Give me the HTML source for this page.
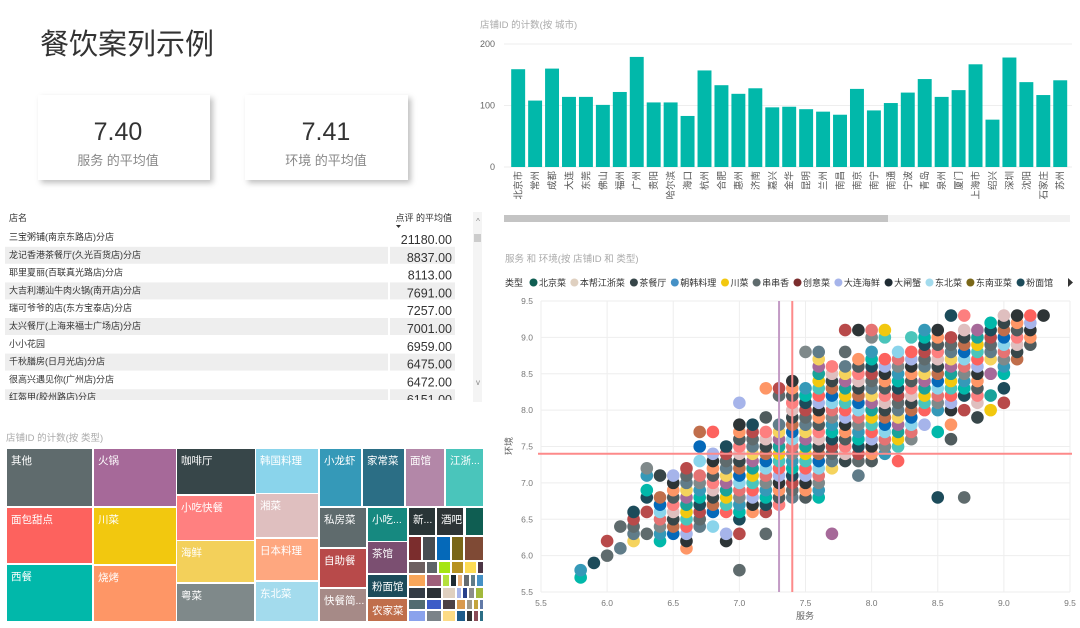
<!DOCTYPE html>
<html><head><meta charset="utf-8">
<style>
body{margin:0;background:#fff;width:1080px;height:623px;overflow:hidden;font-family:"Liberation Sans","Noto Sans CJK SC",sans-serif;}
svg text{font-family:"Liberation Sans","Noto Sans CJK SC",sans-serif;}
</style></head>
<body>
<svg id="root" width="1080" height="623" viewBox="0 0 1080 623" xmlns="http://www.w3.org/2000/svg">
<defs>
<filter id="sh" x="-20%" y="-20%" width="150%" height="150%"><feDropShadow dx="3" dy="3" stdDeviation="3" flood-color="#000" flood-opacity="0.25"/></filter>
</defs>
<text x="40" y="54" font-size="29" fill="#333">餐饮案列示例</text>
<g>
<rect x="38" y="95" width="172" height="85" fill="#fff" filter="url(#sh)"/>
<text x="118" y="140" font-size="25" fill="#333" text-anchor="middle">7.40</text>
<text x="118" y="165" font-size="13" fill="#888" text-anchor="middle">服务 的平均值</text>
</g>
<g>
<rect x="245" y="95" width="163" height="85" fill="#fff" filter="url(#sh)"/>
<text x="326" y="140" font-size="25" fill="#333" text-anchor="middle">7.41</text>
<text x="326" y="165" font-size="13" fill="#888" text-anchor="middle">环境 的平均值</text>
</g>
<g id="table"></g>
<g id="treemap"></g>
<g id="bar"></g>
<g id="scatter"></g>
</svg>
<script>
const NS='http://www.w3.org/2000/svg';
function mk(parent,tag,attrs,txt){const e=document.createElementNS(NS,tag);for(const k in attrs)e.setAttribute(k,attrs[k]);if(txt!==undefined)e.textContent=txt;parent.appendChild(e);return e;}

/* ---------- table ---------- */
const tableNames=['三宝粥铺(南京东路店)分店','龙记香港茶餐厅(久光百货店)分店','耶里夏丽(百联真光路店)分店','大吉利潮汕牛肉火锅(南开店)分店','瑞可爷爷的店(东方宝泰店)分店','太兴餐厅(上海来福士广场店)分店','小小花园','千秋膳房(日月光店)分店','很高兴遇见你(广州店)分店','红盔甲(胶州路店)分店'];
const tableValues=[21180,8837,8113,7691,7257,7001,6959,6475,6472,6151];
(function(){
const g=document.getElementById('table');
let t=mk(g,'text',{x:9,y:221,'font-size':9,fill:'#333'},'店名');


t=mk(g,'text',{x:452,y:221,'font-size':9,fill:'#333','text-anchor':'end'},'点评 的平均值');


mk(g,'path',{d:'M396 225 L401 225 L398.5 228 Z',fill:'#333'});
const sb=mk(g,'rect',{x:473,y:212,width:9,height:190,fill:'#f4f4f4'});


mk(g,'rect',{x:474,y:234,width:7,height:8,fill:'#ccc'});
mk(g,'text',{x:478,y:224,'font-size':8,fill:'#888','text-anchor':'middle'},'^');
mk(g,'text',{x:478,y:385,'font-size':8,fill:'#888','text-anchor':'middle'},'v');
const clip=mk(g,'clipPath',{id:'tc'});mk(clip,'rect',{x:0,y:228,width:470,height:172});
const body=mk(g,'g',{'clip-path':'url(#tc)'});
tableNames.forEach((n,i)=>{
 const y=229+i*17.8;
 const row=mk(body,'g',{});
 
 
 if(i%2===1){mk(row,'rect',{x:5,y:y,width:383,height:17,fill:'#eeeeee'});mk(row,'rect',{x:390,y:y,width:65,height:17,fill:'#eeeeee'});}
 mk(row,'text',{x:9,y:y+11,'font-size':9,fill:'#333'},n);
 mk(row,'text',{x:452,y:y+15,'font-size':12.5,fill:'#333','text-anchor':'end'},tableValues[i].toFixed(2));
});
})();

/* ---------- treemap ---------- */
const tmCells=[
['其他',7,449,92,506,'#5f6b6d'],['火锅',94,449,176,506,'#a66999'],['咖啡厅',177,449,255,494,'#374649'],['韩国料理',256,449,318,493,'#8ad4eb'],
['小龙虾',320,449,361,506,'#3599b8'],['家常菜',363,449,404,506,'#2b6e85'],['面馆',406,449,444,506,'#b387a8'],['江浙...',446,449,483,506,'#4ac5bb'],
['面包甜点',7,508,92,563,'#fd625e'],['川菜',94,508,176,564,'#f2c80f'],['西餐',7,565,92,621,'#01b8aa'],['烧烤',94,566,176,621,'#fe9666'],
['小吃快餐',177,496,254,540,'#ff8080'],['海鲜',177,541,254,582,'#f3d05a'],['粤菜',177,584,254,621,'#7f898a'],
['湘菜',256,494,318,537,'#dfbfbf'],['日本料理',256,539,318,580,'#fea77f'],['东北菜',256,582,318,621,'#a3dbed'],
['私房菜',320,508,366,547,'#5f6b6d'],['自助餐',320,549,366,587,'#b84a4a'],['快餐简...',320,589,366,621,'#a68a87'],
['小吃...',368,508,407,541,'#168980'],['茶馆',368,542,407,573,'#7b4f71'],['粉面馆',368,575,407,597,'#1c4b5a'],['农家菜',368,599,407,621,'#c06e4b'],
['新...',409,508,435,535,'#293537'],['酒吧',437,508,463,535,'#2d3436'],['',466,508,483,535,'#0f5e52'],
['',409,537,421,560,'#7b2d2d'],['',423,537,435,560,'#474d52'],['',437,537,450,560,'#0569b9'],['',452,537,463,560,'#7a6718'],['',465,537,483,560,'#7f4a35'],
['',409,562,425,573,'#6d6061'],['',427,562,437,573,'#5e6469'],['',439,562,450,573,'#a6e512'],['',452,562,463,573,'#b79222'],['',465,562,476,573,'#fddb55'],['',478,562,483,573,'#4d3545'],
['',409,575,425,586,'#f9a65a'],['',427,575,441,586,'#9e5f7a'],['',443,575,449,586,'#b5e03d'],['',451,575,456,586,'#1f2b33'],['',458,575,462,586,'#ebb27d'],['',464,575,469,586,'#656b71'],['',471,575,475,586,'#607c89'],['',477,575,483,586,'#4591c6'],
['',409,588,425,598,'#333b45'],['',427,588,441,598,'#2a3035'],['',443,588,455,598,'#dfd0c0'],['',457,588,461,598,'#a6b4ea'],['',463,588,467,598,'#27408b'],['',469,588,474,598,'#8c8c8c'],['',476,588,483,598,'#a2b93c'],
['',409,600,425,609,'#526c71'],['',427,600,441,609,'#3c5cc7'],['',443,600,455,609,'#4d4145'],['',457,600,465,609,'#d99a4e'],['',467,600,472,609,'#9f9a8c'],['',474,600,478,609,'#c4a43c'],['',480,600,483,609,'#6179a7'],
['',409,611,425,621,'#8aa2ec'],['',427,611,441,621,'#7b8389'],['',443,611,455,621,'#fddb85'],['',457,611,465,621,'#1e5b8a'],['',467,611,472,621,'#333'],['',474,611,478,621,'#8b4b56'],['',480,611,483,621,'#2b6e85']
];
(function(){
const g=document.getElementById('treemap');
mk(g,'text',{x:6,y:441,'font-size':9.5,fill:'#aaa'},'店铺ID 的计数(按 类型)');
tmCells.forEach(c=>{
 const r=mk(g,'rect',{x:c[1],y:c[2],width:c[3]-c[1],height:c[4]-c[2],fill:c[5]});
 
 
 if(c[0])mk(g,'text',{x:c[1]+4,y:c[2]+15,'font-size':10.5,fill:'#fff'},c[0]);
});
})();

/* ---------- bar chart ---------- */
const cities=['北京市','常州','成都','大连','东莞','佛山','福州','广州','贵阳','哈尔滨','海口','杭州','合肥','惠州','济南','嘉兴','金华','昆明','兰州','南昌','南京','南宁','南通','宁波','青岛','泉州','厦门','上海市','绍兴','深圳','沈阳','石家庄','苏州'];
const counts=[159,108,160,114,114,101,122,179,105,105,83,157,133,119,128,97,98,94,90,85,127,92,104,121,143,114,125,167,77,178,138,117,141];
const barTicks=[0,100,200];
(function(){
const g=document.getElementById('bar');
const x0=510,x1=1069,yb=167,yt=44;
const y=v=>yb-(v/200)*(yb-yt);
const step=(x1-x0)/cities.length;
mk(g,'text',{x:480,y:28,'font-size':9.5,fill:'#aaa'},'店铺ID 的计数(按 城市)');
barTicks.forEach(t=>{
 mk(g,'line',{x1:504,x2:1072,y1:y(t),y2:y(t),stroke:'#eee','stroke-width':1});
 mk(g,'text',{x:495,y:y(t)+3,'font-size':9,fill:'#666','text-anchor':'end'},String(t));
});
cities.forEach((c,i)=>{
 const bx=x0+i*step+1.2;
 const bw=step-3;
 const r=mk(g,'rect',{x:bx,y:y(counts[i]),width:bw,height:yb-y(counts[i]),fill:'#01b8aa'});
 
 
 const cx=bx+bw/2+3.5;
 mk(g,'text',{x:cx,y:171,'font-size':9.5,fill:'#555','text-anchor':'end',transform:`rotate(-90 ${cx} 171)`},c);
});
const sb=mk(g,'rect',{x:504,y:215,width:566,height:7,fill:'#f2f2f2'});


mk(g,'rect',{x:504,y:215,width:384,height:7,fill:'#c4c4c4'});
})();

/* ---------- scatter ---------- */
const legendTypes=['北京菜','本帮江浙菜','茶餐厅','朝韩料理','川菜','串串香','创意菜','大连海鲜','大闸蟹','东北菜','东南亚菜','粉面馆'];
const legendColors=['#0f5e52','#dfd0c0','#374649','#4591c6','#f2c80f','#5f6b6d','#7b2d2d','#a6b4ea','#1f2b33','#a3dbed','#7a6718','#1c4b5a'];
const serviceVals=[5.8,5.9,6.0,6.1,6.2,6.3,6.4,6.5,6.6,6.7,6.8,6.9,7.0,7.1,7.2,7.3,7.4,7.5,7.6,7.7,7.8,7.9,8.0,8.1,8.2,8.3,8.4,8.5,8.6,8.7,8.8,8.9,9.0,9.1,9.2,9.3];
const envVals=[
[5.7,5.8],[5.9],[6.0,6.2],[6.1,6.4],[6.2,6.3,6.4,6.5,6.6],[6.3,6.6,6.8,6.9,7.1,7.2],
[6.2,6.3,6.4,6.5,6.6,6.7,6.8,7.1],[6.3,6.4,6.5,6.6,6.7,6.8,6.9,7.0,7.1],
[6.1,6.2,6.3,6.4,6.5,6.6,6.7,6.8,6.9,7.0,7.1,7.2],[6.4,6.5,6.6,6.7,6.8,6.9,7.0,7.1,7.3,7.5,7.7],
[6.4,6.6,6.7,6.8,6.9,7.0,7.1,7.2,7.3,7.4,7.7],[6.2,6.3,6.6,6.7,6.8,6.9,7.0,7.1,7.2,7.3,7.4,7.5],
[5.8,6.3,6.5,6.6,6.7,6.8,6.9,7.0,7.1,7.2,7.3,7.4,7.5,7.6,7.7,7.8,8.1],
[6.6,6.7,6.8,6.9,7.0,7.1,7.2,7.3,7.4,7.5,7.6,7.7,7.8],
[6.3,6.6,6.7,6.8,6.9,7.0,7.1,7.2,7.3,7.4,7.5,7.6,7.7,7.9,8.3],
[6.7,6.8,6.9,7.0,7.1,7.2,7.3,7.4,7.5,7.6,7.7,7.8,8.2,8.3],
[6.8,6.9,7.0,7.1,7.2,7.3,7.4,7.5,7.6,7.7,7.8,7.9,8.0,8.1,8.2,8.3,8.4],
[6.8,6.9,7.0,7.1,7.2,7.3,7.4,7.5,7.6,7.7,7.8,7.9,8.0,8.1,8.2,8.3,8.8],
[6.8,6.9,7.0,7.1,7.2,7.3,7.4,7.5,7.6,7.7,7.8,7.9,8.0,8.1,8.2,8.3,8.4,8.5,8.6,8.7,8.8],
[6.3,7.2,7.3,7.4,7.5,7.6,7.7,7.8,7.9,8.0,8.1,8.2,8.3,8.4,8.5,8.6],
[7.3,7.4,7.5,7.6,7.7,7.8,7.9,8.0,8.1,8.2,8.3,8.4,8.5,8.6,8.8,9.1],
[7.1,7.3,7.4,7.5,7.6,7.7,7.8,7.9,8.0,8.1,8.2,8.3,8.4,8.5,8.6,8.7,9.1],
[7.3,7.4,7.5,7.6,7.7,7.8,7.9,8.0,8.1,8.2,8.3,8.4,8.5,8.6,8.7,8.8,9.0,9.1],
[7.4,7.5,7.6,7.7,7.8,7.9,8.0,8.1,8.2,8.3,8.4,8.5,8.6,8.7,9.0,9.1],
[7.3,7.5,7.6,7.7,7.8,7.9,8.0,8.1,8.2,8.3,8.4,8.5,8.6,8.7,8.8],
[7.6,7.7,7.8,7.9,8.0,8.1,8.2,8.3,8.4,8.5,8.6,8.7,8.8,9.0],
[7.8,8.0,8.1,8.2,8.3,8.4,8.5,8.6,8.7,8.8,8.9,9.0,9.1],
[6.8,7.7,8.0,8.1,8.2,8.3,8.4,8.5,8.6,8.7,8.8,8.9,9.0,9.1],
[7.6,7.8,8.0,8.1,8.2,8.3,8.4,8.5,8.6,8.7,8.8,8.9,9.0,9.3],
[6.8,8.0,8.2,8.3,8.4,8.5,8.6,8.7,8.8,8.9,9.0,9.1,9.3],
[7.9,8.1,8.2,8.3,8.4,8.5,8.6,8.7,8.8,8.9,9.0,9.1],
[8.0,8.2,8.5,8.7,8.8,8.9,9.0,9.1,9.2],
[8.1,8.3,8.5,8.6,8.7,8.8,8.9,9.0,9.1,9.2,9.3],
[8.7,8.8,8.9,9.0,9.1,9.2,9.3],
[8.9,9.0,9.1,9.2,9.3],
[9.3]
];
const xTicks=[5.5,6.0,6.5,7.0,7.5,8.0,8.5,9.0,9.5];
const yTicks=[5.5,6.0,6.5,7.0,7.5,8.0,8.5,9.0,9.5];
const avgService=7.4, avgEnv=7.4, medianService=7.3;
(function(){
const g=document.getElementById('scatter');
const px0=541,px1=1070,py0=592,py1=301;
const sx=v=>px0+(v-5.5)/4*(px1-px0);
const sy=v=>py0-(v-5.5)/4*(py0-py1);
mk(g,'text',{x:505,y:262,'font-size':9.5,fill:'#aaa'},'服务 和 环境(按 店铺ID 和 类型)');
mk(g,'text',{x:505,y:286,'font-size':9,fill:'#333'},'类型');
let lx=530;
legendTypes.forEach((t,i)=>{
 const lg=mk(g,'g',{});
 
 
 mk(lg,'circle',{cx:lx+3.5,cy:282.5,r:4,fill:legendColors[i]});
 mk(lg,'text',{x:lx+9,y:286,'font-size':9,fill:'#333'},t);
 lx+=9+t.length*9.3+4;
});
const arr=mk(g,'path',{d:'M1068 278 L1073 282.5 L1068 287 Z',fill:'#333'});


xTicks.forEach(t=>{
 mk(g,'line',{x1:sx(t),x2:sx(t),y1:py1,y2:py0,stroke:'#eee'});
 mk(g,'text',{x:sx(t),y:606,'font-size':8.5,fill:'#777','text-anchor':'middle'},t.toFixed(1));
});
yTicks.forEach(t=>{
 mk(g,'line',{x1:px0,x2:px1,y1:sy(t),y2:sy(t),stroke:'#eee'});
 mk(g,'text',{x:533,y:sy(t)+3,'font-size':8.5,fill:'#777','text-anchor':'end'},t.toFixed(1));
});
mk(g,'text',{x:805,y:619,'font-size':9,fill:'#666','text-anchor':'middle'},'服务');
mk(g,'text',{x:512,y:446,'font-size':9,fill:'#666','text-anchor':'middle',transform:'rotate(-90 512 446)'},'环境');
const pal=['#01b8aa','#374649','#fd625e','#5f6b6d','#8ad4eb','#fe9666','#a66999','#3599b8','#dfbfbf','#4ac5bb','#b84a4a','#0569b9','#2d3436','#f5d35d','#7f898a','#fd7f7f','#f2c80f','#1c4b5a','#c06e4b','#a6b4ea','#607c89','#e57373','#4f5b5d','#1aa39a'];
let k=0;
envVals.forEach((col,i)=>{
 col.forEach(v=>{
  const c=mk(g,'circle',{cx:sx(serviceVals[i]),cy:sy(v),r:6.3,fill:pal[(k*7+i*3)%pal.length]});
  
  
  k++;
 });
});
mk(g,'line',{x1:sx(medianService),x2:sx(medianService),y1:py1,y2:py0,stroke:'#c39bc5','stroke-width':2});
mk(g,'line',{x1:sx(avgService),x2:sx(avgService),y1:py1,y2:py0,stroke:'#fd8a8a','stroke-width':2});
mk(g,'line',{x1:px0-3,x2:1072,y1:sy(avgEnv),y2:sy(avgEnv),stroke:'#fd8a8a','stroke-width':2});
})();
</script>
</body></html>
